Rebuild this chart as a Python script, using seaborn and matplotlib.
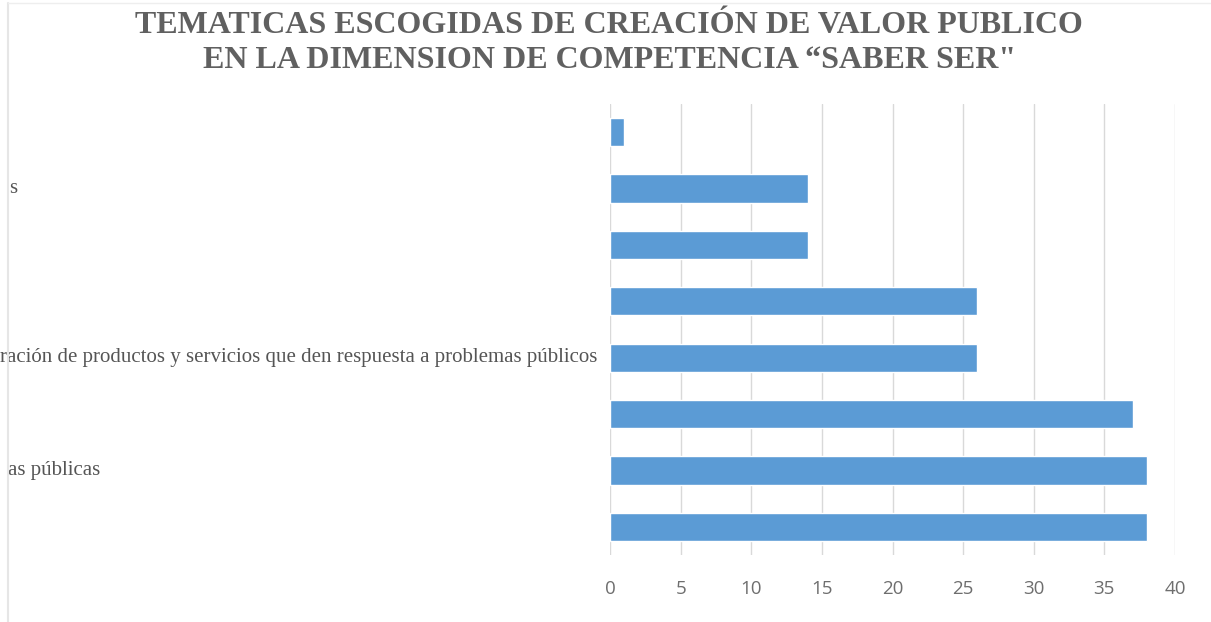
import matplotlib
matplotlib.use("Agg")
import matplotlib.pyplot as plt
import matplotlib.transforms as mtransforms
import seaborn as sns
import pandas as pd

# Data: topics from top to bottom, with the count of times each was chosen
topics = ["T1", "T2", "T3", "T4", "T5", "T6", "T7", "T8"]
counts = [1, 14, 14, 26, 26, 37, 38, 38]
# Visible part of each category label (long labels run off the left edge)
label_text = ["", "s", "", "",
              "ración de productos y servicios que den respuesta a problemas públicos",
              "", "as públicas", ""]
label_end_px = [0, 17, 0, 0, 597, 0, 100, 0]
x_ticks = [0, 5, 10, 15, 20, 25, 30, 35, 40]

title = "TEMATICAS ESCOGIDAS DE CREACIÓN DE VALOR PUBLICO\nEN LA DIMENSION DE COMPETENCIA \u201cSABER SER\""

sns.set_theme(style="white")
plt.rcParams["font.family"] = ["Open Sans", "DejaVu Sans"]

W, H = 1211, 622
fig = plt.figure(figsize=(W / 100, H / 100), dpi=100)
ax = fig.add_axes([610 / W, 1 - 555 / H, 565 / W, (555 - 104) / H])

df = pd.DataFrame({"topic": topics, "count": counts})
sns.barplot(data=df, y="topic", x="count", orient="h", color="#5B9BD5",
            saturation=1, width=0.5, ax=ax, zorder=3)

ax.set_xlim(0, 40)
ax.set_ylim(len(topics) - 0.5, -0.5)
ax.set_xticks(x_ticks)
ax.set_xticklabels([str(t) for t in x_ticks])
ax.xaxis.grid(True, color="#D9D9D9", linewidth=1, zorder=0)
ax.set_axisbelow(True)
for s in ax.spines.values():
    s.set_visible(False)
ax.tick_params(axis="x", length=0, pad=18, labelsize=13.5, labelcolor="#6E6E6E")
ax.tick_params(axis="y", length=0, labelleft=False)
ax.set_xlabel("")
ax.set_ylabel("")

# Category labels, right-aligned at their end position in figure pixels
blend = mtransforms.blended_transform_factory(fig.transFigure, ax.transData)
for i, (txt, xe) in enumerate(zip(label_text, label_end_px)):
    if txt:
        ax.text(xe / W, i, txt, transform=blend,
                ha="right", va="center", fontsize=15, color="#555555",
                family="Liberation Serif", clip_on=False)

fig.text(0.503, 1 - 43 / H, title, ha="center", va="center",
         fontsize=23, color="#606060", family="Liberation Serif",
         fontweight="bold", linespacing=1.3)

# Faint page border on the left and top
fig.add_artist(plt.Line2D([8 / W, 8 / W], [0, 1 - 3 / H], transform=fig.transFigure,
                          color="#E6E6E6", linewidth=1.5))
fig.add_artist(plt.Line2D([8 / W, 1], [1 - 3 / H, 1 - 3 / H], transform=fig.transFigure,
                          color="#EEEEEE", linewidth=1))

fig.savefig("out.png", dpi=100, facecolor="white")
